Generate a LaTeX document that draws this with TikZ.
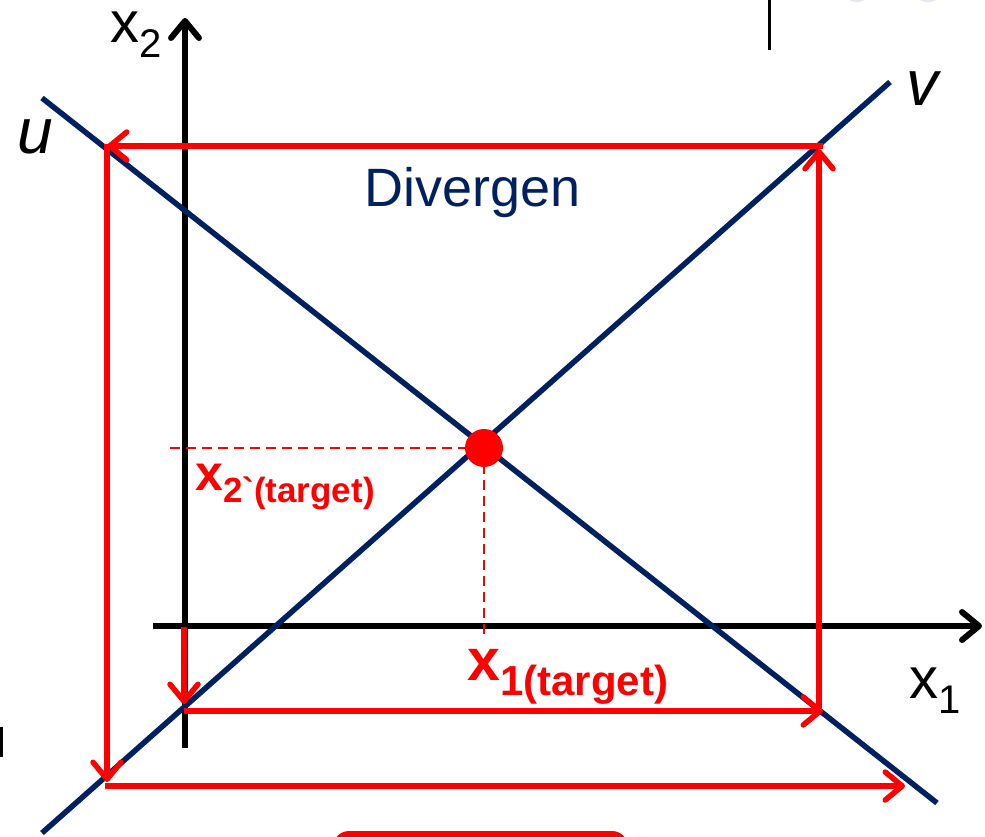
\documentclass[tikz,border=0pt]{standalone}
\usepackage{fontspec}
\setmainfont{Liberation Sans}
\usepackage{xcolor}
\usetikzlibrary{arrows.meta,positioning}
\definecolor{navy}{HTML}{002060}
\definecolor{lavender}{HTML}{E4E4F3}

\begin{document}
\begin{tikzpicture}[
  x=1pt, y=-1pt,
  axis/.style={line width=6pt,-{Straight Barb[length=17pt,width=28pt,round]}},
  ray/.style={line width=5.5pt,draw=navy},
  arrow/.style={line width=5.5pt,draw=red,-{Straight Barb[length=17pt,width=28pt,round]}},
  guide/.style={line width=2.5pt,draw=red,dash pattern=on 10pt off 6pt},
  lbl/.style={inner sep=0pt,anchor=base west},
  dot/.style={circle,fill=red,minimum size=38pt,inner sep=0pt},
]
\useasboundingbox (0,0) rectangle (985,836);
% bits of the slide round the figure
\fill[lavender] (857,-14) circle (16);
\fill[lavender] (928,-14) circle (16);
\draw[line width=3pt] (769,0) -- (769,50);
\fill (0,727) rectangle (3,757);
\fill[red,rounded corners=16pt] (333,831) rectangle (628,880);

% axes
\coordinate (x2bot) at (185,748);
\coordinate (x2top) at (185,18);
\coordinate (x1left) at (153,626);
\coordinate (x1right) at (982,626);
\draw[axis] (x2bot) -- (x2top);
\draw[axis] (x1left) -- (x1right);
\node[lbl,text height=30pt] (x2lbl) at (110,42) {\fontsize{58}{58}\selectfont x\raisebox{-15pt}{\fontsize{40}{40}\selectfont 2}};
\node[lbl] (x1lbl) at (909,698) {\fontsize{58}{58}\selectfont x\raisebox{-15pt}{\fontsize{40}{40}\selectfont 1}};

% the two lines
\coordinate (u0) at (42,98);
\coordinate (u1) at (937,803);
\coordinate (v0) at (42,833);
\coordinate (v1) at (890,82);
\draw[ray] (u0) -- (u1);
\draw[ray] (v0) -- (v1);
\node[lbl] (ulbl) at (17,153) {\fontsize{64}{64}\selectfont\itshape u};
\node[lbl] (vlbl) at (906,105) {\fontsize{64}{64}\selectfont\itshape v};
\node[lbl,text=navy] (title) at (364,206) {\fontsize{54}{54}\selectfont Divergen};

% iteration path
\coordinate (o) at (184,627);
\coordinate (p1) at (184,704);
\coordinate (p1r) at (184,711);
\coordinate (p2) at (823,711);
\coordinate (p2u) at (819,708);
\coordinate (p3) at (819,149);
\coordinate (p3l) at (823,146);
\coordinate (p4) at (107,146);
\coordinate (p4d) at (107,144);
\coordinate (p5) at (107,782);
\coordinate (p5r) at (105,786);
\coordinate (p6) at (905,786);
\draw[arrow] (o) -- (p1);
\draw[arrow] (p1r) -- (p2);
\draw[arrow] (p2u) -- (p3);
\draw[arrow] (p3l) -- (p4);
\draw[arrow] (p4d) -- (p5);
\draw[arrow] (p5r) -- (p6);

% target point
\coordinate (eqc) at (484,448);
\coordinate (x2t) at (168,448);
\coordinate (x1t) at (484,638);
\draw[guide] (eqc) -- (x2t);
\draw[guide] (eqc) -- (x1t);
\node[dot] (eq) at (eqc) {};
\node[lbl,text=red,font=\bfseries] (x2tlbl) at (195,490) {\fontsize{50}{50}\selectfont x\raisebox{-12pt}{\fontsize{35}{35}\selectfont 2\textasciigrave(target)}};
\node[lbl,text=red,font=\bfseries] (x1tlbl) at (467,680) {\fontsize{59}{59}\selectfont x\raisebox{-15pt}{\fontsize{42}{42}\selectfont 1(target)}};
\end{tikzpicture}
\end{document}
